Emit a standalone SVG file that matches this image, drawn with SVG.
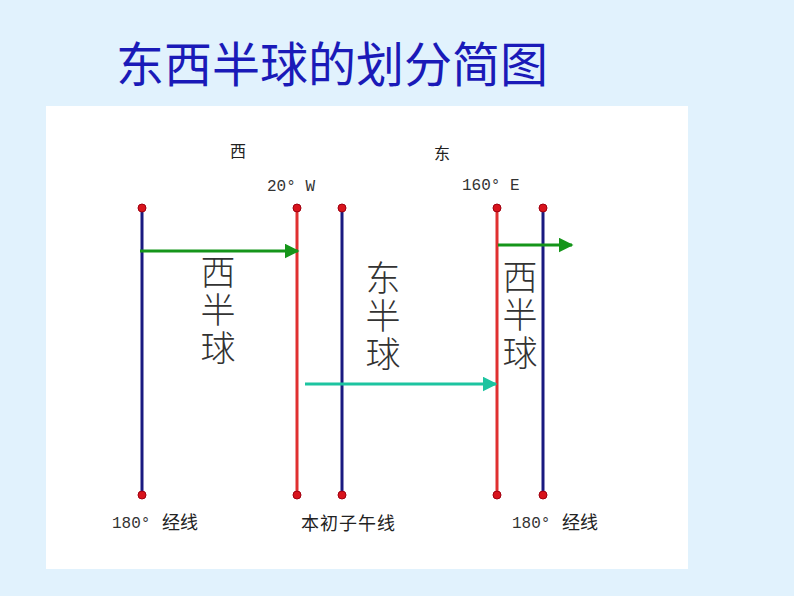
<svg xmlns="http://www.w3.org/2000/svg" width="794" height="596" viewBox="0 0 794 596">
<style>
.cjk{font-family:"Noto Sans CJK SC",sans-serif;fill:#222}
.mono{font-family:"Liberation Mono",monospace;fill:#333;font-size:16px}
.big{font-size:35px;fill:#333;font-family:"Noto Sans CJK SC",sans-serif;font-weight:300;writing-mode:vertical-rl;letter-spacing:3px}
.blue{stroke:#1a1a80;stroke-width:3}
.red{stroke:#e03030;stroke-width:3}
.dot{fill:#d8141c;stroke:#a00010;stroke-width:1}
</style>
<defs>
<marker id="ag" viewBox="0 0 10 10" refX="9" refY="5" markerWidth="5" markerHeight="5" orient="auto" markerUnits="strokeWidth"><path d="M0,0 L10,5 L0,10 z" fill="#15951a"/></marker>
<marker id="at" viewBox="0 0 10 10" refX="9" refY="5" markerWidth="5" markerHeight="5" orient="auto" markerUnits="strokeWidth"><path d="M0,0 L10,5 L0,10 z" fill="#1cc4a0"/></marker>
</defs>
<rect width="794" height="596" fill="#e1f2fd"/>
<text x="116" y="82" font-family="'Noto Sans CJK SC',sans-serif" font-size="48" fill="#1a1ab8">东西半球的划分简图</text>
<rect x="46" y="106" width="642" height="463" fill="#ffffff"/>
<g id="meridians">
<g id="m180w"><line x1="142" y1="208" x2="142" y2="495" class="blue"/><circle cx="142" cy="208" r="4" class="dot"/><circle cx="142" cy="495" r="4" class="dot"/></g>
<g id="m20w"><line x1="297" y1="208" x2="297" y2="495" class="red"/><circle cx="297" cy="208" r="4" class="dot"/><circle cx="297" cy="495" r="4" class="dot"/></g>
<g id="m0"><line x1="342" y1="208" x2="342" y2="495" class="blue"/><circle cx="342" cy="208" r="4" class="dot"/><circle cx="342" cy="495" r="4" class="dot"/></g>
<g id="m160e"><line x1="497" y1="208" x2="497" y2="495" class="red"/><circle cx="497" cy="208" r="4" class="dot"/><circle cx="497" cy="495" r="4" class="dot"/></g>
<g id="m180e"><line x1="543" y1="208" x2="543" y2="495" class="blue"/><circle cx="543" cy="208" r="4" class="dot"/><circle cx="543" cy="495" r="4" class="dot"/></g>
</g>
<g id="connectors">
<line x1="140" y1="251" x2="298" y2="251" stroke="#15951a" stroke-width="3" marker-end="url(#ag)"/>
<line x1="305" y1="384" x2="496" y2="384" stroke="#1cc4a0" stroke-width="3" marker-end="url(#at)"/>
<line x1="498" y1="245" x2="572" y2="245" stroke="#15951a" stroke-width="3" marker-end="url(#ag)"/>
</g>
<g id="labels">
<text x="230" y="157" class="cjk" font-size="16">西</text>
<text x="434" y="159" class="cjk" font-size="16">东</text>
<text x="267" y="191" class="mono">20° W</text>
<text x="462" y="190" class="mono">160° E</text>
<text x="112" y="528" class="mono">180°</text>
<text x="162" y="529" class="cjk" font-size="18">经线</text>
<text x="301" y="530" class="cjk" font-size="18" letter-spacing="1">本初子午线</text>
<text x="512" y="528" class="mono">180°</text>
<text x="562" y="529" class="cjk" font-size="18">经线</text>
</g>
<g id="west1"><text x="218" y="254" class="big">西半球</text></g>
<g id="east"><text x="383" y="260" class="big">东半球</text></g>
<g id="west2"><text x="520" y="259" class="big">西半球</text></g>
</svg>
